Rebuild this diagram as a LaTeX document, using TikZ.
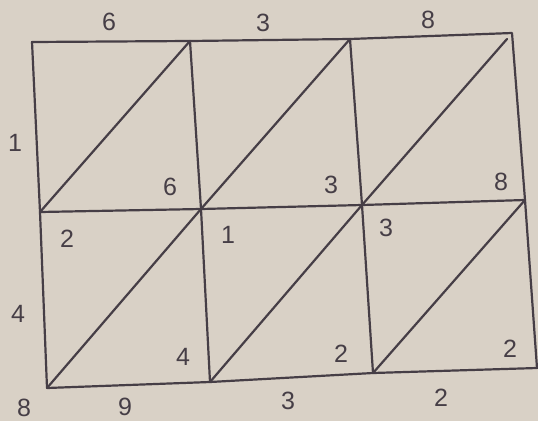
\documentclass[tikz,border=0pt]{standalone}
\usepackage{fontspec}
\setmainfont{Liberation Sans}
\definecolor{paper}{HTML}{D9D1C6}
\definecolor{ink}{HTML}{463E46}
\begin{document}
\begin{tikzpicture}[x=1pt,y=-1pt,
  grid/.style={draw=ink,line width=2.2pt,line cap=round,line join=round},
  digit/.style={text=ink,font=\fontsize{25}{25}\selectfont,inner sep=0pt}]
\fill[paper] (0,0) rectangle (538,421);
\useasboundingbox (0,0) rectangle (538,421);
% grid points
\coordinate (T0) at (32,42);
\coordinate (T1) at (190,41);
\coordinate (T2) at (350,39);
\coordinate (T3) at (512,33);
\coordinate (M0) at (40,212);
\coordinate (M1) at (201,209);
\coordinate (M2) at (362,205);
\coordinate (M3) at (525,200);
\coordinate (B0) at (47,388);
\coordinate (B1) at (210,382);
\coordinate (B2) at (373,373);
\coordinate (B3) at (537,368);
\coordinate (D3) at (507,39);
% outline and lines
\draw[grid] (T0) -- (T1) -- (T2) -- (T3) -- (M3) -- (B3) -- (B2) -- (B1) -- (B0) -- (M0) -- cycle;
\draw[grid] (M0) -- (M1) -- (M2) -- (M3);
\draw[grid] (T1) -- (M1) -- (B1);
\draw[grid] (T2) -- (M2) -- (B2);
% diagonals
\draw[grid] (M0) -- (T1);
\draw[grid] (M1) -- (T2);
\draw[grid] (M2) -- (D3);
\draw[grid] (B0) -- (M1);
\draw[grid] (B1) -- (M2);
\draw[grid] (B2) -- (M3);
% outside digits
\node[digit] (a1) at (109,22) {6};
\node[digit] (a2) at (263,23) {3};
\node[digit] (a3) at (428,20) {8};
\node[digit] (l1) at (15,143) {1};
\node[digit] (l2) at (18,314) {4};
\node[digit] (b0) at (24,408) {8};
\node[digit] (b1) at (125,407) {9};
\node[digit] (b2) at (288,401) {3};
\node[digit] (b3) at (441,398) {2};
% cell digits
\node[digit] (c1) at (170,187) {6};
\node[digit] (c2) at (331,185) {3};
\node[digit] (c3) at (501,182) {8};
\node[digit] (c4) at (67,239) {2};
\node[digit] (c5) at (228,235) {1};
\node[digit] (c6) at (386,228) {3};
\node[digit] (c7) at (183,357) {4};
\node[digit] (c8) at (341,354) {2};
\node[digit] (c9) at (510,349) {2};
\end{tikzpicture}
\end{document}
